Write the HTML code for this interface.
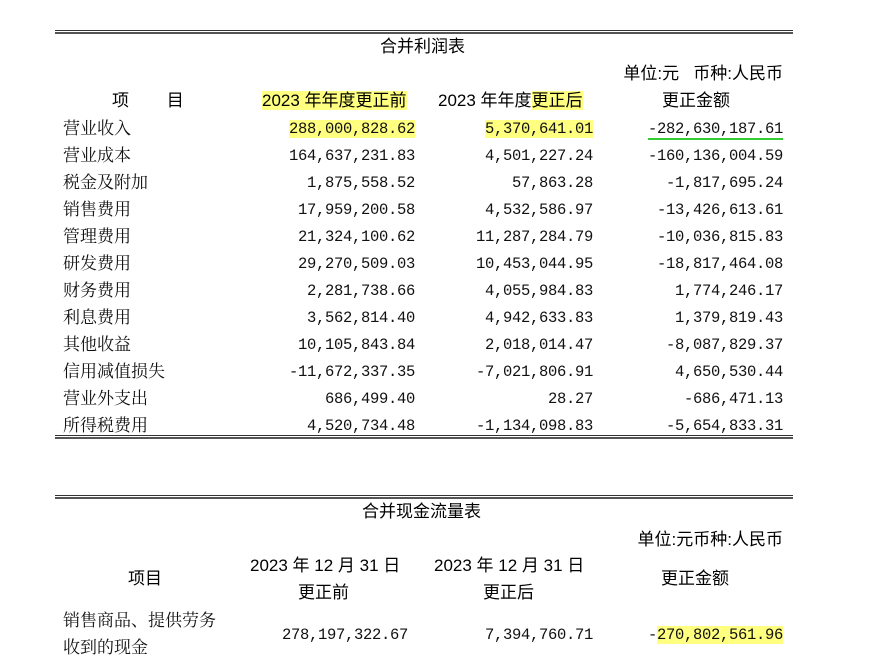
<!DOCTYPE html>
<html><head><meta charset="utf-8"><style>
body{margin:0;width:881px;height:663px;background:#fff;position:relative;overflow:hidden;color:#111}
.a{position:absolute;white-space:nowrap;line-height:26px;height:26px}
.s{font-family:"Liberation Sans","Noto Sans CJK SC",sans-serif;font-size:17px;color:#000}
.c{font-family:"Noto Serif CJK SC","Liberation Serif",serif;font-size:17px}
.n{font-family:"Liberation Mono","Noto Serif CJK SC",monospace;font-size:15.5px;text-align:right;letter-spacing:-0.3px}
.l{position:absolute;left:55px;width:738px;border-top:1px solid #333;border-bottom:2px solid #555;height:1px}
.y{background:#ffff80}
</style></head><body>
<div class="l" style="top:30px"></div>
<div class="l" style="top:435px"></div>
<div class="l" style="top:495px"></div>

<div class="a s" style="left:380px;top:34px">合并利润表</div>
<div class="a s" style="left:583px;top:61px;width:200px;text-align:right">单位:元&nbsp;&nbsp;&nbsp;币种:人民币</div>
<div class="a s" style="left:112px;top:88px">项&nbsp;&nbsp;&nbsp;&nbsp;&nbsp;&nbsp;&nbsp;&nbsp;目</div>
<div class="a s" style="left:262px;top:88px"><span class="y">2023 年年度更正前</span></div>
<div class="a s" style="left:438px;top:88px">2023 年年度<span class="y">更正后</span></div>
<div class="a s" style="left:662px;top:88px">更正金额</div>

<div id="rows"></div>

<div class="a s" style="left:362px;top:499px">合并现金流量表</div>
<div class="a s" style="left:583px;top:527px;width:200px;text-align:right">单位:元币种:人民币</div>
<div class="a s" style="left:128px;top:566px">项目</div>
<div class="a s" style="left:250px;top:553px">2023 年 12 月 31 日</div>
<div class="a s" style="left:298px;top:580px">更正前</div>
<div class="a s" style="left:434px;top:553px">2023 年 12 月 31 日</div>
<div class="a s" style="left:483px;top:580px">更正后</div>
<div class="a s" style="left:661px;top:566px">更正金额</div>
<div class="a c" style="left:63px;top:606px">销售商品、提供劳务</div>
<div class="a c" style="left:63px;top:633px">收到的现金</div>
<div class="a n" style="left:200px;width:208px;top:622px">278,197,322.67</div>
<div class="a n" style="left:390px;width:203px;top:622px">7,394,760.71</div>
<div class="a n" style="left:580px;width:203px;top:622px">-<span class="y">270,802,561.96</span></div>

<script>
var d=[["营业收入","288,000,828.62","5,370,641.01","-282,630,187.61"],
["营业成本","164,637,231.83","4,501,227.24","-160,136,004.59"],
["税金及附加","1,875,558.52","57,863.28","-1,817,695.24"],
["销售费用","17,959,200.58","4,532,586.97","-13,426,613.61"],
["管理费用","21,324,100.62","11,287,284.79","-10,036,815.83"],
["研发费用","29,270,509.03","10,453,044.95","-18,817,464.08"],
["财务费用","2,281,738.66","4,055,984.83","1,774,246.17"],
["利息费用","3,562,814.40","4,942,633.83","1,379,819.43"],
["其他收益","10,105,843.84","2,018,014.47","-8,087,829.37"],
["信用减值损失","-11,672,337.35","-7,021,806.91","4,650,530.44"],
["营业外支出","686,499.40","28.27","-686,471.13"],
["所得税费用","4,520,734.48","-1,134,098.83","-5,654,833.31"]];
var h="";
d.forEach(function(r,i){var t=114+27*i;
var a=r[1],b=r[2],c=r[3];
if(i==0){a='<span class="y">'+a+'</span>';b='<span class="y">'+b+'</span>';c='<span style="border-bottom:2px solid #3c3">'+c+'</span>';}
h+='<div class="a c" style="left:63px;top:'+t+'px">'+r[0]+'</div>';
h+='<div class="a n" style="left:200px;width:215px;top:'+(t+2)+'px">'+a+'</div>';
h+='<div class="a n" style="left:400px;width:193px;top:'+(t+2)+'px">'+b+'</div>';
h+='<div class="a n" style="left:590px;width:193px;top:'+(t+2)+'px">'+c+'</div>';});
document.getElementById("rows").innerHTML=h;
</script>
</body></html>
